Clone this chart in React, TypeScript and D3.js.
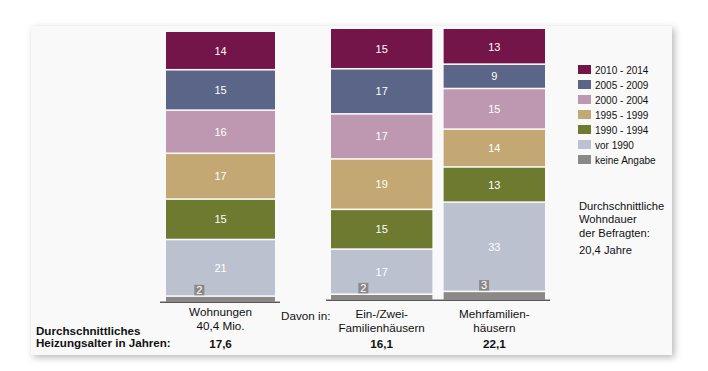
import React from "react";
import * as d3 from "d3";

const periods = ["2010 - 2014", "2005 - 2009", "2000 - 2004", "1995 - 1999", "1990 - 1994", "vor 1990", "keine Angabe"];
const periodColors = ["#74154a", "#5a6587", "#be97b1", "#c4a874", "#6d7a2f", "#bcc1d0", "#8b8888"];
const wohnungen = [14, 15, 16, 17, 15, 21, 2];
const einZwei = [15, 17, 17, 19, 15, 17, 2];
const mehrfamilien = [13, 9, 15, 14, 13, 33, 3];
const categoryLabels = [
  ["Wohnungen", "40,4 Mio."],
  ["Ein-/Zwei-", "Familienhäusern"],
  ["Mehrfamilien-", "häusern"],
];
const heizungsalter = ["17,6", "16,1", "22,1"];
const leftLabel = ["Durchschnittliches", "Heizungsalter in Jahren:"];
const davonLabel = "Davon in:";
const wohndauerLines = ["Durchschnittliche", "Wohndauer", "der Befragten:"];
const wohndauerValue = "20,4 Jahre";

const FONT = "'Liberation Sans', Arial, Helvetica, sans-serif";
const W = 708;
const H = 371;

type BarSpec = {
  values: number[];
  x0: number;
  bw: number;
  yBottom: number;
  yTop: number;
  boxFrac: number;
  lineX: [number, number];
  lineY: number;
  labelY: number[];
};

function Bar({ spec, idx }: { spec: BarSpec; idx: number }) {
  const total = d3.sum(spec.values);
  const y = d3.scaleLinear().domain([0, total]).range([spec.yBottom, spec.yTop]);
  const rev = [...spec.values].reverse();
  const cum = Array.from(d3.cumsum(rev));
  const segs = rev.map((v, i) => {
    const origIdx = spec.values.length - 1 - i;
    const lo = i === 0 ? 0 : cum[i - 1];
    const hi = cum[i];
    return { v, origIdx, lo, hi };
  });
  const gap = 0.8;
  return (
    <g>
      {segs.map((s) => {
        const yTop = y(s.hi) + (s.origIdx === 0 ? 0 : gap);
        const yBot = y(s.lo) - (s.origIdx === spec.values.length - 1 ? 0 : gap);
        return (
          <rect
            key={"r" + s.origIdx}
            x={spec.x0}
            y={yTop}
            width={spec.bw}
            height={Math.max(0, yBot - yTop)}
            fill={periodColors[s.origIdx]}
          />
        );
      })}
      {segs.map((s) => {
        if (s.origIdx === spec.values.length - 1) {
          const bx = spec.x0 + spec.bw * spec.boxFrac;
          const bBottom = y(s.hi) - gap;
          return (
            <g key={"t" + s.origIdx}>
              <rect x={bx} y={bBottom - 10.5} width={10} height={10.5} fill={periodColors[s.origIdx]} />
              <text x={bx + 5} y={bBottom - 1.5} textAnchor="middle" fill="#fff" fontSize={11} fontFamily={FONT}>
                {s.v}
              </text>
            </g>
          );
        }
        const cy = (y(s.hi) + y(s.lo)) / 2;
        return (
          <text
            key={"t" + s.origIdx}
            x={spec.x0 + spec.bw / 2}
            y={cy + 4}
            textAnchor="middle"
            fill="#fff"
            fontSize={11}
            fontFamily={FONT}
          >
            {s.v}
          </text>
        );
      })}
      {categoryLabels[idx].map((l, i) => (
        <text
          key={"c" + i}
          x={spec.x0 + spec.bw / 2}
          y={spec.labelY[i]}
          textAnchor="middle"
          fontSize={11.7}
          fill="#111"
          fontFamily={FONT}
        >
          {l}
        </text>
      ))}
      <text
        x={spec.x0 + spec.bw / 2}
        y={347.5}
        textAnchor="middle"
        fontSize={11.7}
        fontWeight="bold"
        fill="#111"
        fontFamily={FONT}
      >
        {heizungsalter[idx]}
      </text>
    </g>
  );
}

export default function App() {
  const groupX = d3.scaleBand<string>().domain(["ein", "mehr"]).range([331, 545]).paddingInner(0.1).paddingOuter(0);
  const bars: BarSpec[] = [
    {
      values: wohnungen,
      x0: 166,
      bw: 109,
      yBottom: 301.5,
      yTop: 32,
      boxFrac: 0.26,
      lineX: [160, 280],
      lineY: 302.2,
      labelY: [316, 330],
    },
    {
      values: einZwei,
      x0: groupX("ein")!,
      bw: groupX.bandwidth(),
      yBottom: 299.5,
      yTop: 29,
      boxFrac: 0.27,
      lineX: [326, 550],
      lineY: 300.2,
      labelY: [318, 332],
    },
    {
      values: mehrfamilien,
      x0: groupX("mehr")!,
      bw: groupX.bandwidth(),
      yBottom: 299.5,
      yTop: 29,
      boxFrac: 0.35,
      lineX: [326, 550],
      lineY: 300.2,
      labelY: [318, 332],
    },
  ];

  const legendY = d3.scalePoint<string>().domain(periods).range([65, 155]);

  return (
    <svg
      width={W}
      height={H}
      style={{ position: "absolute", left: 0, top: 0, display: "block", background: "#fff" }}
    >
      <defs>
        <filter id="shadow" x="-5%" y="-5%" width="115%" height="120%">
          <feDropShadow dx="2.5" dy="2.5" stdDeviation="3.5" floodColor="#000" floodOpacity="0.28" />
        </filter>
      </defs>
      <rect x={31} y={26} width={641} height={329} fill="#f9f9f9" filter="url(#shadow)" />
      {bars.map((b, i) => (
        <Bar key={i} spec={b} idx={i} />
      ))}
      <line x1={bars[0].lineX[0]} x2={bars[0].lineX[1]} y1={bars[0].lineY} y2={bars[0].lineY} stroke="#111" strokeWidth={1} />
      <line x1={bars[1].lineX[0]} x2={bars[1].lineX[1]} y1={bars[1].lineY} y2={bars[1].lineY} stroke="#111" strokeWidth={1} />
      <text x={281} y={319.5} fontSize={11.7} fill="#111" fontFamily={FONT}>
        {davonLabel}
      </text>
      {leftLabel.map((l, i) => (
        <text key={i} x={36} y={335 + i * 12} fontSize={11.6} fontWeight="bold" fill="#111" fontFamily={FONT}>
          {l}
        </text>
      ))}
      {periods.map((p, i) => (
        <g key={p}>
          <rect x={578} y={legendY(p)!} width={13} height={9} fill={periodColors[i]} />
          <text x={595} y={legendY(p)! + 8.5} fontSize={10} fill="#111" fontFamily={FONT}>
            {p}
          </text>
        </g>
      ))}
      {wohndauerLines.map((l, i) => (
        <text key={i} x={579} y={209.5 + i * 13.7} fontSize={11.2} fill="#111" fontFamily={FONT}>
          {l}
        </text>
      ))}
      <text x={579} y={253.5} fontSize={11.2} fill="#111" fontFamily={FONT}>
        {wohndauerValue}
      </text>
    </svg>
  );
}
